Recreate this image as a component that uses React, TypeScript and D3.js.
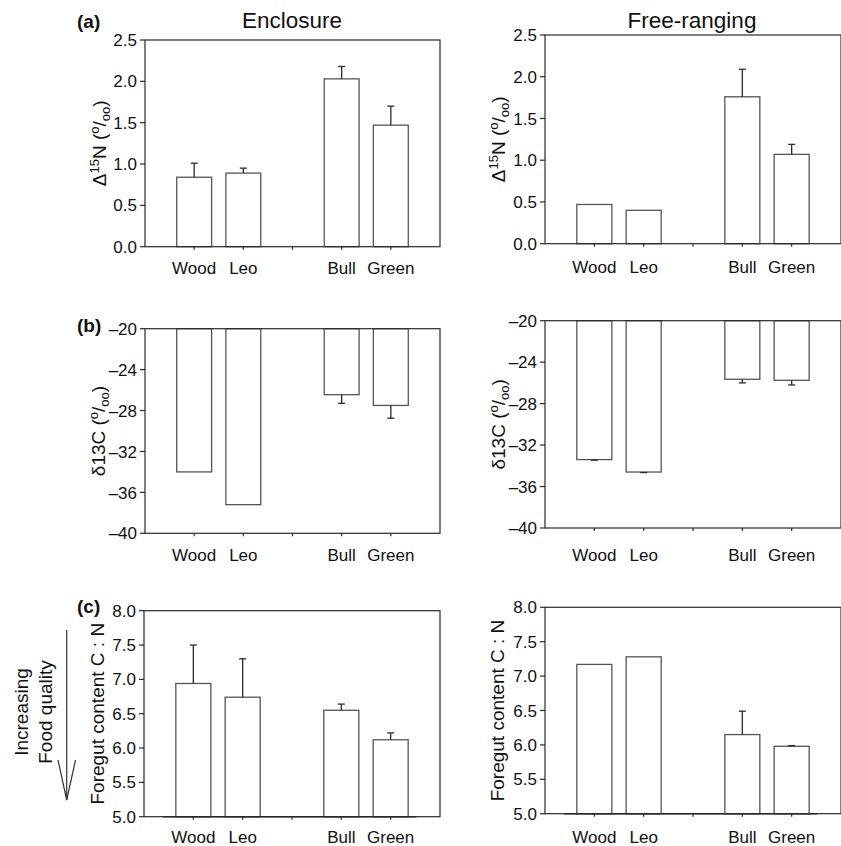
import React from "react";
import * as d3 from "d3";

const slots = ["Wood", "Leo", "", "Bull", "Green"];
const categories = ["Wood", "Leo", "Bull", "Green"];

const encN = [0.84, 0.89, 2.03, 1.47];
const encNErr = [0.17, 0.06, 0.15, 0.23];
const freeN = [0.47, 0.4, 1.76, 1.07];
const freeNErr = [0, 0, 0.33, 0.12];

const encC = [-34.0, -37.2, -26.45, -27.5];
const encCErr = [0, 0, 0.85, 1.25];
const freeC = [-33.4, -34.6, -25.65, -25.75];
const freeCErr = [0.05, 0.05, 0.35, 0.45];

const encCN = [6.94, 6.74, 6.55, 6.12];
const encCNErr = [0.56, 0.56, 0.09, 0.1];
const freeCN = [7.17, 7.28, 6.15, 5.98];
const freeCNErr = [0, 0, 0.34, 0.01];

const ticksN = [0, 0.5, 1.0, 1.5, 2.0, 2.5];
const ticksC = [-20, -24, -28, -32, -36, -40];
const ticksCN = [5.0, 5.5, 6.0, 6.5, 7.0, 7.5, 8.0];

const FONT = "'Liberation Sans', Arial, Helvetica, sans-serif";
const AX = "#2a2a2a";
const BAR = "#555";

type PanelProps = {
  x0: number; x1: number; yTop: number; yBot: number;
  catY: number; ylabX: number;
  values: number[]; errs: number[]; domain: [number, number];
  ticks: number[]; fmt: (v: number) => string;
  base: number; label: React.ReactNode; baseline?: boolean;
};

function Panel(p: PanelProps) {
  const x = d3.scalePoint<string>().domain(slots).range([p.x0, p.x1]).padding(1);
  const step = x.step();
  const bw = step * 0.71;
  const y = d3.scaleLinear().domain(p.domain).range([p.yBot, p.yTop]);
  const yMid = (p.yTop + p.yBot) / 2;
  return (
    <g>
      {categories.map((c, i) => {
        const cx = x(c)!;
        const v = p.values[i];
        const yv = y(v);
        const yb = y(p.base);
        const e = p.errs[i];
        const dir = v >= p.base ? 1 : -1;
        const ye = y(v + dir * e);
        return (
          <g key={c}>
            <rect x={cx - bw / 2} y={Math.min(yv, yb)} width={bw} height={Math.abs(yb - yv)}
              fill="#fff" stroke={BAR} strokeWidth={1.3} />
            {e > 0 && (
              <g stroke={AX} strokeWidth={1.3}>
                <line x1={cx} x2={cx} y1={yv} y2={ye} />
                <line x1={cx - 3.5} x2={cx + 3.5} y1={ye} y2={ye} />
              </g>
            )}
          </g>
        );
      })}
      {p.baseline && (
        <line x1={x.range()[0] + step * 0.38} x2={x.range()[0] + step * 5.52}
          y1={y(p.base)} y2={y(p.base)} stroke={AX} strokeWidth={1.4} />
      )}
      <rect x={p.x0} y={p.yTop} width={p.x1 - p.x0} height={p.yBot - p.yTop}
        fill="none" stroke={AX} strokeWidth={1.2} />
      {slots.map((s, i) => (
        <line key={i} x1={x(s)!} x2={x(s)!} y1={p.yBot} y2={p.yBot + 3} stroke={AX} strokeWidth={1.2} />
      ))}
      {categories.map((c) => (
        <text key={c} x={x(c)!} y={p.catY} textAnchor="middle" fontSize={17} fontFamily={FONT} fill="#111">{c}</text>
      ))}
      {p.ticks.map((t) => (
        <g key={t}>
          <line x1={p.x0 - 5} x2={p.x0} y1={y(t)} y2={y(t)} stroke={AX} strokeWidth={1.2} />
          <text x={p.x0 - 8} y={y(t)} dy="0.36em" textAnchor="end" fontSize={17} fontFamily={FONT} fill="#111">{p.fmt(t)}</text>
        </g>
      ))}
      <text transform={`translate(${p.ylabX},${yMid}) rotate(-90)`} textAnchor="middle"
        fontSize={19} fontFamily={FONT} fill="#111">{p.label}</text>
    </g>
  );
}

const permil = (
  <>
    {" ("}
    <tspan dy={-7} fontSize={13}>o</tspan>
    <tspan dy={7}>/</tspan>
    <tspan dy={4} fontSize={13}>oo</tspan>
    <tspan dy={-4}>)</tspan>
  </>
);

const labN = (
  <>
    {"Δ"}
    <tspan dy={-7} fontSize={13}>15</tspan>
    <tspan dy={7}>N</tspan>
    {permil}
  </>
);

const labC = (
  <>
    {"δ13C"}
    {permil}
  </>
);

const labCN = <>{"Foregut content C : N"}</>;

const f1 = d3.format(".1f");
const fC = (v: number) => (v < 0 ? "–" + Math.abs(v) : String(v));

export default function App() {
  return (
    <svg width={841} height={846} style={{ position: "absolute", left: 0, top: 0, background: "#fff" }}>
      <text x={292} y={28} textAnchor="middle" fontSize={22.5} fontFamily={FONT} fill="#111">Enclosure</text>
      <text x={692} y={28} textAnchor="middle" fontSize={22.5} fontFamily={FONT} fill="#111">Free-ranging</text>
      <text x={77} y={28} fontSize={19} fontWeight="bold" fontFamily={FONT} fill="#111">(a)</text>
      <text x={77} y={332} fontSize={19} fontWeight="bold" fontFamily={FONT} fill="#111">(b)</text>
      <text x={77} y={613} fontSize={19} fontWeight="bold" fontFamily={FONT} fill="#111">(c)</text>

      <Panel x0={145} x1={440} yTop={40} yBot={246.7} catY={274} ylabX={106}
        values={encN} errs={encNErr} domain={[0, 2.5]} ticks={ticksN} fmt={f1} base={0} label={labN} />
      <Panel x0={545} x1={841} yTop={35} yBot={243.7} catY={273} ylabX={505}
        values={freeN} errs={freeNErr} domain={[0, 2.5]} ticks={ticksN} fmt={f1} base={0} label={labN} />
      <Panel x0={145} x1={440} yTop={328.7} yBot={533.3} catY={561} ylabX={105}
        values={encC} errs={encCErr} domain={[-40, -20]} ticks={ticksC} fmt={fC} base={-20} label={labC} />
      <Panel x0={545} x1={841} yTop={320.7} yBot={528} catY={561} ylabX={505}
        values={freeC} errs={freeCErr} domain={[-40, -20]} ticks={ticksC} fmt={fC} base={-20} label={labC} />
      <Panel x0={144} x1={440} yTop={610.7} yBot={816.7} catY={843} ylabX={104}
        values={encCN} errs={encCNErr} domain={[5, 8]} ticks={ticksCN} fmt={f1} base={5} label={labCN} baseline />
      <Panel x0={545} x1={841} yTop={607.3} yBot={813.7} catY={843} ylabX={504}
        values={freeCN} errs={freeCNErr} domain={[5, 8]} ticks={ticksCN} fmt={f1} base={5} label={labCN} baseline />

      <g stroke="#333" strokeWidth={1.2} fill="none">
        <line x1={66.7} x2={66.7} y1={630} y2={800} />
        <polyline points="58,760 66.7,800 75.5,760" />
      </g>
      <text transform="translate(28,712) rotate(-90)" textAnchor="middle" fontSize={19} fontFamily={FONT} fill="#111">Increasing</text>
      <text transform="translate(52,712) rotate(-90)" textAnchor="middle" fontSize={19} fontFamily={FONT} fill="#111">Food quality</text>
    </svg>
  );
}
